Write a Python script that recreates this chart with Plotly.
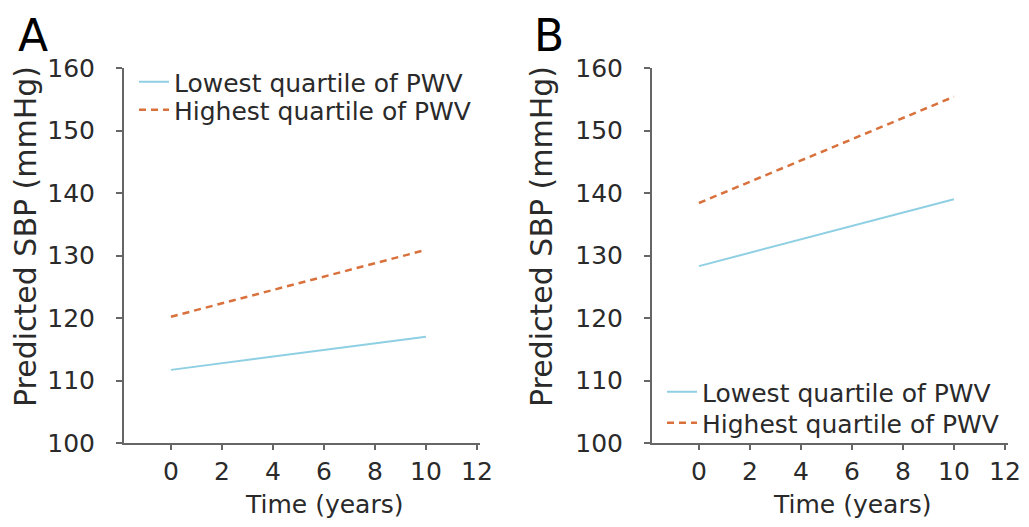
import plotly.graph_objects as go

years = [0, 10]
a_low = [111.7, 117.0]
a_high = [120.2, 130.9]
b_low = [128.3, 139.0]
b_high = [138.4, 155.4]
x_ticks = [0, 2, 4, 6, 8, 10, 12]
y_ticks = [100, 110, 120, 130, 140, 150, 160]
names = ["Lowest quartile of PWV", "Highest quartile of PWV"]

# page body has an 8px margin; size the figure so it fits the 1029x527 window
OFF = 8
W, H = 1029 - 2 * OFF, 527 - 2 * OFF
FONT = "DejaVu Sans, Liberation Sans, Arial, sans-serif"
BLUE = "#8fcfe3"
ORANGE = "#d9713c"
AX = "#666666"
TXT = "#2a2a2a"


def px_x(p):
    return (p - OFF) / W


def px_y(p):
    return (H - (p - OFF)) / H


fig = go.Figure()
fig.add_trace(go.Scatter(x=years, y=a_low, mode="lines", name=names[0],
                         line=dict(color=BLUE, width=2), xaxis="x", yaxis="y", legend="legend"))
fig.add_trace(go.Scatter(x=years, y=a_high, mode="lines", name=names[1],
                         line=dict(color=ORANGE, width=2.5, dash="7px,5px"), xaxis="x", yaxis="y", legend="legend2"))
fig.add_trace(go.Scatter(x=years, y=b_low, mode="lines", name=names[0],
                         line=dict(color=BLUE, width=2), xaxis="x2", yaxis="y2", legend="legend3"))
fig.add_trace(go.Scatter(x=years, y=b_high, mode="lines", name=names[1],
                         line=dict(color=ORANGE, width=2.5, dash="7px,5px"), xaxis="x2", yaxis="y2", legend="legend4"))

xr = [-1.84, 12.12]
yr = [100, 160]
ydom = [px_y(443), px_y(68)]

xcommon = dict(range=xr, tickvals=x_ticks, showline=True, linecolor=AX, linewidth=2,
               ticks="outside", ticklen=5, tickwidth=2, tickcolor=AX, showgrid=False,
               zeroline=False, tickfont=dict(size=25, color=TXT, family=FONT),
               ticklabelstandoff=0, automargin=False)
ycommon = dict(range=yr, tickvals=y_ticks, showline=True, linecolor=AX, linewidth=2,
               ticks="outside", ticklen=6, tickwidth=2, tickcolor=AX, showgrid=False,
               zeroline=False, tickfont=dict(size=25, color=TXT, family=FONT),
               ticklabelstandoff=16, domain=ydom, automargin=False)

legfont = dict(size=25, family=FONT, color=TXT)


def leg(xp, yp):
    return dict(x=px_x(xp), y=px_y(yp), xanchor="left", yanchor="middle", font=legfont,
                bgcolor="rgba(0,0,0,0)", borderwidth=0, itemwidth=30)


fig.update_layout(
    width=W, height=H,
    margin=dict(l=0, r=0, t=0, b=0, autoexpand=False),
    paper_bgcolor="white", plot_bgcolor="white",
    font=dict(family=FONT, color=TXT),
    xaxis=dict(domain=[px_x(124), px_x(124 + (xr[1] - xr[0]) * 25.5)], anchor="y", **xcommon),
    yaxis=dict(anchor="x", **ycommon),
    xaxis2=dict(domain=[px_x(652), px_x(652 + (xr[1] - xr[0]) * 25.5)], anchor="y2", **xcommon),
    yaxis2=dict(anchor="x2", **ycommon),
    legend=leg(134, 82),
    legend2=leg(134, 110),
    legend3=leg(662, 392),
    legend4=leg(662, 423),
    showlegend=True,
)

title_font = dict(size=25, family=FONT, color=TXT)
ytitle_font = dict(size=30, family=FONT, color=TXT)
base = dict(showarrow=False, xanchor="center", yanchor="middle")
letter = dict(showarrow=False, xanchor="center", yanchor="top")
anns = [
    dict(text="A", x=px_x(33), y=px_y(8), xref="paper", yref="paper",
         font=dict(size=44, family=FONT, color="black"), **letter),
    dict(text="B", x=px_x(549), y=px_y(8), xref="paper", yref="paper",
         font=dict(size=44, family=FONT, color="black"), **letter),
    dict(text="Time (years)", x=6, y=px_y(504), xref="x", yref="paper", font=title_font, **base),
    dict(text="Time (years)", x=6, y=px_y(504), xref="x2", yref="paper", font=title_font, **base),
    dict(text="Predicted SBP (mmHg)", x=px_x(25), y=px_y(237), xref="paper", yref="paper",
         textangle=-90, font=ytitle_font, **base),
    dict(text="Predicted SBP (mmHg)", x=px_x(541), y=px_y(237), xref="paper", yref="paper",
         textangle=-90, font=ytitle_font, **base),
]
fig.update_layout(annotations=anns)

fig.write_html("out.html")
